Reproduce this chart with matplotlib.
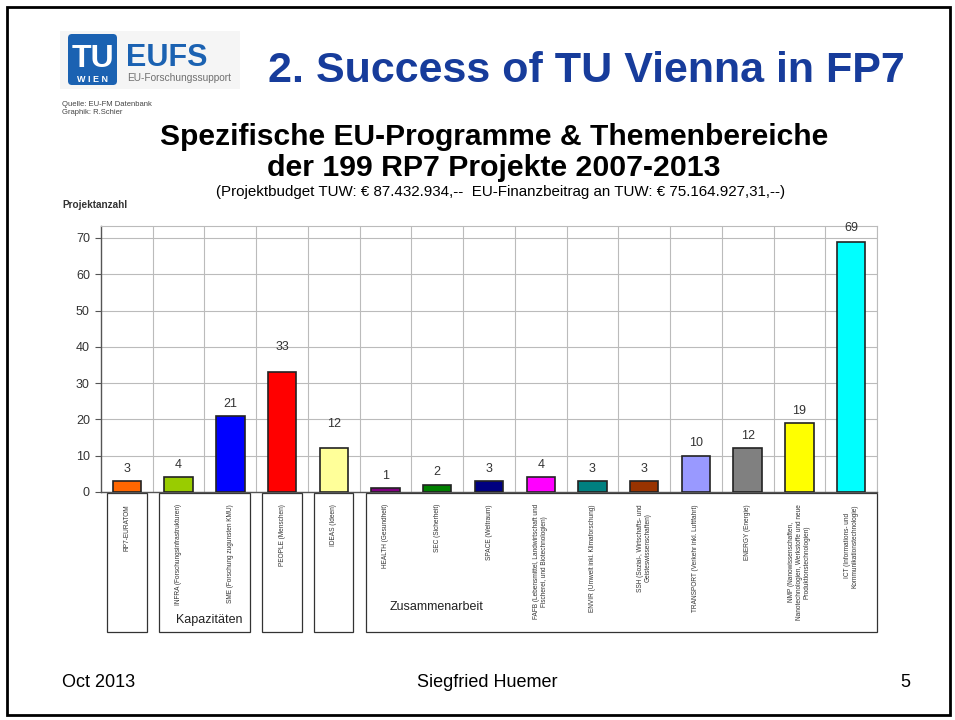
import numpy as np
import matplotlib
matplotlib.use("Agg")
import matplotlib.pyplot as plt
from matplotlib.patches import Rectangle, FancyBboxPatch
from matplotlib.transforms import blended_transform_factory

plt.rcParams['font.family'] = ['Liberation Sans', 'DejaVu Sans']

# ---- Daten ----
programme = [
    "RP7-EURATOM",
    "INFRA (Forschungsinfrastrukturen)",
    "SME (Forschung zugunsten KMU)",
    "PEOPLE (Menschen)",
    "IDEAS (Ideen)",
    "HEALTH (Gesundheit)",
    "SEC (Sicherheit)",
    "SPACE (Weltraum)",
    "FAFB (Lebensmittel, Landwirtschaft und\nFischerei, und Biotechnologien)",
    "ENVIR (Umwelt inkl. Klimaforschung)",
    "SSH (Sozial-, Wirtschafts- und\nGeisteswissenschaften)",
    "TRANSPORT (Verkehr inkl. Luftfahrt)",
    "ENERGY (Energie)",
    "NMP (Nanowissenschaften,\nNanotechnologien, Werkstoffe und neue\nProduktionstechnologien)",
    "ICT (Informations- und\nKommunikationstechnologie)",
]
projekte = [3, 4, 21, 33, 12, 1, 2, 3, 4, 3, 3, 10, 12, 19, 69]
farben = ["#FF6600", "#99CC00", "#0000FF", "#FF0000", "#FFFF99",
          "#800080", "#008000", "#000080", "#FF00FF", "#008080",
          "#993300", "#9999FF", "#808080", "#FFFF00", "#00FFFF"]
# Gruppen: (erster Index, letzter Index, Bezeichnung)
gruppen = [(0, 0, ""), (1, 2, "Kapazitäten"), (3, 3, ""), (4, 4, ""),
           (5, 14, "Zusammenarbeit")]
yticks = [0, 10, 20, 30, 40, 50, 60, 70]
# Abstand der Wertbeschriftung ueber dem Balken (Punkte)
label_abstand = [4.5, 4.5, 4.5, 13.5, 13.5, 4.5, 4.5, 4.5, 4.5, 4.5,
                 4.5, 4.5, 4.5, 4.5, 5.5]

W, H = 955, 720
fig = plt.figure(figsize=(W / 100, H / 100), dpi=100)
fig.patch.set_facecolor("white")

# Hintergrund-Achse in Pixelkoordinaten fuer Folienelemente
bg = fig.add_axes([0, 0, 1, 1], zorder=0)
bg.set_xlim(0, W)
bg.set_ylim(H, 0)
bg.axis("off")

# Folienrahmen
bg.add_patch(Rectangle((7, 7), 943, 708, fill=False, ec="black", lw=2))

# Logo
bg.add_patch(Rectangle((60, 31), 180, 58, fc="#F5F5F5", ec="none"))
bg.add_patch(FancyBboxPatch((68, 34), 49, 51, boxstyle="round,pad=0,rounding_size=4",
                            fc="#1B62B2", ec="none"))
bg.text(92.5, 67, "TU", color="white", fontsize=23, fontweight="bold",
        ha="center", va="baseline")
bg.text(92.5, 82, "W I E N", color="white", fontsize=6.5, fontweight="bold",
        ha="center", va="baseline")
bg.text(126, 66, "EUFS", color="#1B62B2", fontsize=22, fontweight="bold",
        ha="left", va="baseline")
bg.text(127, 81, "EU-Forschungssupport", color="#707070", fontsize=7.3,
        ha="left", va="baseline")

# Folientitel
bg.text(268, 82, "2. Success of TU Vienna in FP7", color="#173C9B",
        fontsize=31, fontweight="bold", ha="left", va="baseline")

bg.text(62, 106, "Quelle: EU-FM Datenbank", fontsize=5.5, color="#444444",
        ha="left", va="baseline")
bg.text(62, 114, "Graphik: R.Schier", fontsize=5.5, color="#444444",
        ha="left", va="baseline")

bg.text(494, 145, "Spezifische EU-Programme & Themenbereiche", fontsize=21.6,
        fontweight="bold", ha="center", va="baseline")
bg.text(494, 176, "der 199 RP7 Projekte 2007-2013", fontsize=21.8,
        fontweight="bold", ha="center", va="baseline")
bg.text(501, 196, "(Projektbudget TUW: € 87.432.934,--  EU-Finanzbeitrag an TUW: € 75.164.927,31,--)",
        fontsize=10.9, ha="center", va="baseline")
bg.text(62, 208, "Projektanzahl", fontsize=7.2, fontweight="bold",
        color="#333333", ha="left", va="baseline")

# Fusszeile
bg.text(62, 687, "Oct 2013", fontsize=13, ha="left", va="baseline")
bg.text(487, 687, "Siegfried Huemer", fontsize=13, ha="center", va="baseline")
bg.text(910, 687, "5", fontsize=13, ha="right", va="baseline")

# ---- Diagramm ----
ax = fig.add_axes([101 / W, 1 - 492 / H, 776 / W, 266 / H], zorder=2)
x = np.arange(len(projekte))
ax.bar(x, projekte, width=0.55, color=farben, edgecolor="#222222",
       linewidth=1.2, zorder=3)
for xi, v, off in zip(x, projekte, label_abstand):
    ax.annotate(str(v), (xi, v), xytext=(0, off), textcoords="offset points",
                ha="center", va="bottom", fontsize=9, color="#333333")

ax.set_xlim(-0.5, len(projekte) - 0.5)
ax.set_ylim(0, 73.3)
ax.set_yticks(yticks)
ax.set_yticklabels([str(t) for t in yticks], fontsize=9, color="#333333")
ax.set_xticks(x + 0.5, minor=True)
ax.set_xticks([])
ax.grid(True, axis="y", color="#BBBBBB", lw=0.8, zorder=0)
ax.grid(True, axis="x", which="minor", color="#BBBBBB", lw=0.8, zorder=0)
ax.tick_params(axis="y", length=4, color="#555555", width=0.8, pad=4)
ax.tick_params(axis="x", which="minor", length=0)
for s in ["top", "right"]:
    ax.spines[s].set_color("#BBBBBB")
    ax.spines[s].set_linewidth(0.8)
for s in ["left", "bottom"]:
    ax.spines[s].set_color("#555555")
    ax.spines[s].set_linewidth(1)

# Beschriftungskaesten unterhalb der Achse
tr = blended_transform_factory(ax.transData, bg.transData)
for a, b, name in gruppen:
    left = a - 0.38
    right = b + 0.38 if b < len(projekte) - 1 else len(projekte) - 0.5
    bg.add_patch(Rectangle((left, 493), right - left, 139, transform=tr,
                           fill=False, ec="#333333", lw=0.9, clip_on=False))
    if name == "Kapazitäten":
        bg.text(left + 0.33, 623, name, transform=tr, fontsize=9,
                ha="left", va="baseline", color="#222222")
    elif name:
        bg.text(left + 0.46, 610, name, transform=tr, fontsize=9,
                ha="left", va="baseline", color="#222222")
for xi, lab in zip(x, programme):
    bg.text(xi, 504, lab, transform=tr, rotation=90, fontsize=4.7,
            ha="center", va="top", multialignment="center", color="#333333")

fig.savefig("out.png", dpi=100, facecolor="white")
